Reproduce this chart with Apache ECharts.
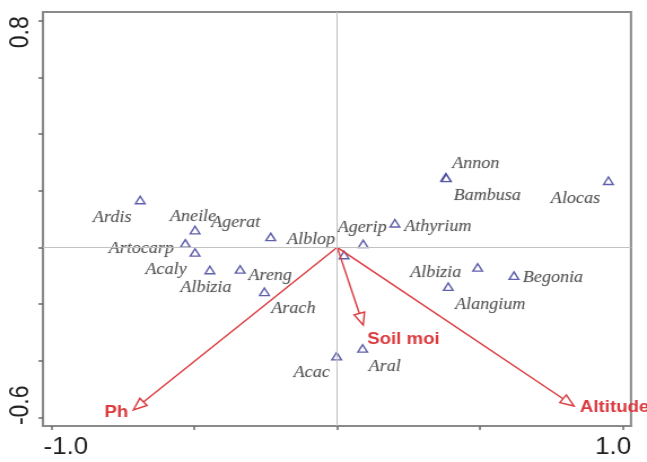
<!DOCTYPE html>
<html>
<head>
<meta charset="utf-8">
<script src="https://cdn.jsdelivr.net/npm/echarts@6/dist/echarts.min.js"></script>
<style>
  html, body { margin: 0; padding: 0; background: #fff; overflow: hidden; }
  #wrap { width: 647px; height: 462px; overflow: hidden; }
  /* the chart is laid out narrower and widened horizontally */
  #chart { width: 573px; height: 462px; transform: scaleX(1.12914); transform-origin: 0 0; }
</style>
</head>
<body>
<div id="wrap"><div id="chart"></div></div>
<script>
// Species scores on the first two ordination axes
const speciesNames = ['Ardis', 'Aneile', 'Agerat', 'Artocarp', 'Acaly', 'Albizia', 'Areng', 'Arach',
  'Alblop', 'Agerip', 'Athyrium', 'Annon', 'Bambusa', 'Alocas', 'Albizia', 'Alangium', 'Begonia',
  'Acac', 'Aral'];
const speciesX = [-0.690, -0.498, -0.233, -0.532, -0.498, -0.446, -0.340, -0.255,
  0.024, 0.091, 0.202, 0.380, 0.382, 0.950, 0.492, 0.389, 0.619,
  -0.002, 0.089];
const speciesY = [0.167, 0.061, 0.037, 0.014, -0.018, -0.080, -0.078, -0.157,
  -0.027, 0.012, 0.085, 0.247, 0.245, 0.235, -0.071, -0.139, -0.100,
  -0.384, -0.357];

// Environmental vectors (arrow tips)
const envNames = ['Ph', 'Soil moi', 'Altitude'];
const envX = [-0.714, 0.091, 0.829];
const envY = [-0.574, -0.274, -0.560];

// Axis ticks and labelled values
const xTicks = [-1.0, -0.5, 0, 0.5, 1.0];
const yTicks = [-0.6, -0.4, -0.2, 0, 0.2, 0.4, 0.6, 0.8];
const xTickLabels = [-1.0, 1.0];
const yTickLabels = [-0.6, 0.8];

// ---- layout and styling ----
const S = 647 / 573;               // horizontal widening of the chart box
const RED = '#dc3a3e';
const POINT = '#3a3a96';
const TEXT = '#2c2c2c';

// label placement around each species point, in screen pixels [dx, dy]
const speciesLabelShift = [
  [-28, 18], [-2, -13], [-35, -14], [-44, 5], [-29, 17], [-4, 18], [30, 6], [29, 17],
  [-33, -15], [-1, -16], [43, 4], [30, -14], [41, 18], [-33, 18], [-42, 5], [42, 18], [39, 2],
  [-25, 17], [22, 18]
];
// label placement at each arrow tip
const envLabelPlace = [
  { dx: -5, dy: 3, align: 'right' },
  { dx: 4, dy: 15, align: 'left' },
  { dx: 6, dy: 1, align: 'left' }
];

const speciesData = speciesNames.map((n, i) => ({
  name: n,
  value: [speciesX[i], speciesY[i]],
  label: { offset: [speciesLabelShift[i][0] / S, speciesLabelShift[i][1]] }
}));
const envData = envNames.map((n, i) => ({ name: n, value: [envX[i], envY[i]] }));

const tickFont = { fontFamily: 'Liberation Sans, Arial, sans-serif', fontSize: 23, color: '#222' };

const chart = echarts.init(document.getElementById('chart'), null, { renderer: 'canvas' });
chart.setOption({
  animation: false,
  backgroundColor: '#fff',
  grid: {
    left: 43 / S, right: 573 - 631 / S, top: 12, bottom: 36,
    show: true, borderColor: '#8a8a8a', borderWidth: 2, backgroundColor: 'transparent'
  },
  xAxis: {
    type: 'value', min: -1.0305, max: 1.029,
    axisLine: { show: true, onZero: false, lineStyle: { color: '#8a8a8a', width: 2 } },
    axisTick: { show: true, customValues: xTicks, length: 4, lineStyle: { color: '#6a6a6a', width: 1.5 } },
    axisLabel: {
      show: true, customValues: xTickLabels, margin: 10,
      formatter: v => (v < 0 ? '{l|' : '{r|') + v.toFixed(1) + '}',
      rich: {
        l: Object.assign({ padding: [0, 0, 0, 25] }, tickFont),
        r: Object.assign({ padding: [0, 17, 0, 0] }, tickFont)
      }
    },
    splitLine: { show: false }
  },
  yAxis: {
    type: 'value', min: -0.6307, max: 0.8307,
    axisLine: { show: true, onZero: false, lineStyle: { color: '#8a8a8a', width: 2 } },
    axisTick: { show: true, customValues: yTicks, length: 4, lineStyle: { color: '#6a6a6a', width: 1.5 } },
    axisLabel: {
      show: true, customValues: yTickLabels, rotate: 90, margin: 8,
      formatter: v => (v < 0 ? '{l|' : '{r|') + v.toFixed(1) + '}',
      rich: {
        l: Object.assign({ padding: [0, 0, 0, 24] }, tickFont),
        r: Object.assign({ padding: [0, 23, 0, 0] }, tickFont)
      }
    },
    splitLine: { show: false }
  },
  series: [
    {
      // reference lines through the origin
      type: 'scatter', data: [], silent: true, z: 1,
      markLine: {
        silent: true, symbol: ['none', 'none'], label: { show: false },
        lineStyle: { color: '#c2c2c2', width: 1, type: 'solid' },
        emphasis: { disabled: true },
        data: [{ xAxis: 0 }, { yAxis: 0 }]
      }
    },
    {
      type: 'scatter', z: 3, silent: true,
      symbol: 'triangle', symbolSize: [8.5, 7.5],
      itemStyle: { color: '#fff', borderColor: POINT, borderWidth: 1.4 },
      label: {
        show: true, position: 'inside', formatter: p => p.name,
        fontFamily: 'Liberation Serif, Times New Roman, serif', fontStyle: 'italic',
        fontSize: 16, color: TEXT, align: 'center', verticalAlign: 'middle',
        textBorderColor: 'rgba(44,44,44,0.25)', textBorderWidth: 0.4
      },
      emphasis: { disabled: true },
      data: speciesData
    },
    {
      type: 'custom', z: 4, silent: true, clip: false,
      data: envData,
      renderItem: (params, api) => {
        const i = params.dataIndex;
        const o = api.coord([0, 0]);
        const t = api.coord([api.value(0), api.value(1)]);
        const dx = t[0] - o[0], dy = t[1] - o[1];
        const len = Math.hypot(dx, dy);
        const ux = dx / len, uy = dy / len;
        const nx = -uy, ny = ux;
        const L = 12, W = 4.8;
        const bx = t[0] - ux * L, by = t[1] - uy * L;
        const place = envLabelPlace[i];
        return {
          type: 'group',
          children: [
            { type: 'line', shape: { x1: o[0], y1: o[1], x2: bx, y2: by },
              style: { stroke: RED, lineWidth: 1.4 } },
            { type: 'polygon',
              shape: { points: [[t[0], t[1]], [bx + nx * W, by + ny * W], [bx - nx * W, by - ny * W]] },
              style: { fill: '#fff', stroke: RED, lineWidth: 1.4 } },
            { type: 'text', x: t[0] + place.dx / S, y: t[1] + place.dy,
              style: { text: envNames[i], fill: RED, fontSize: 16.5, fontWeight: 'bold',
                fontFamily: 'Liberation Sans, Arial, sans-serif',
                align: place.align, verticalAlign: 'middle' } }
          ]
        };
      }
    }
  ]
});
</script>
</body>
</html>
